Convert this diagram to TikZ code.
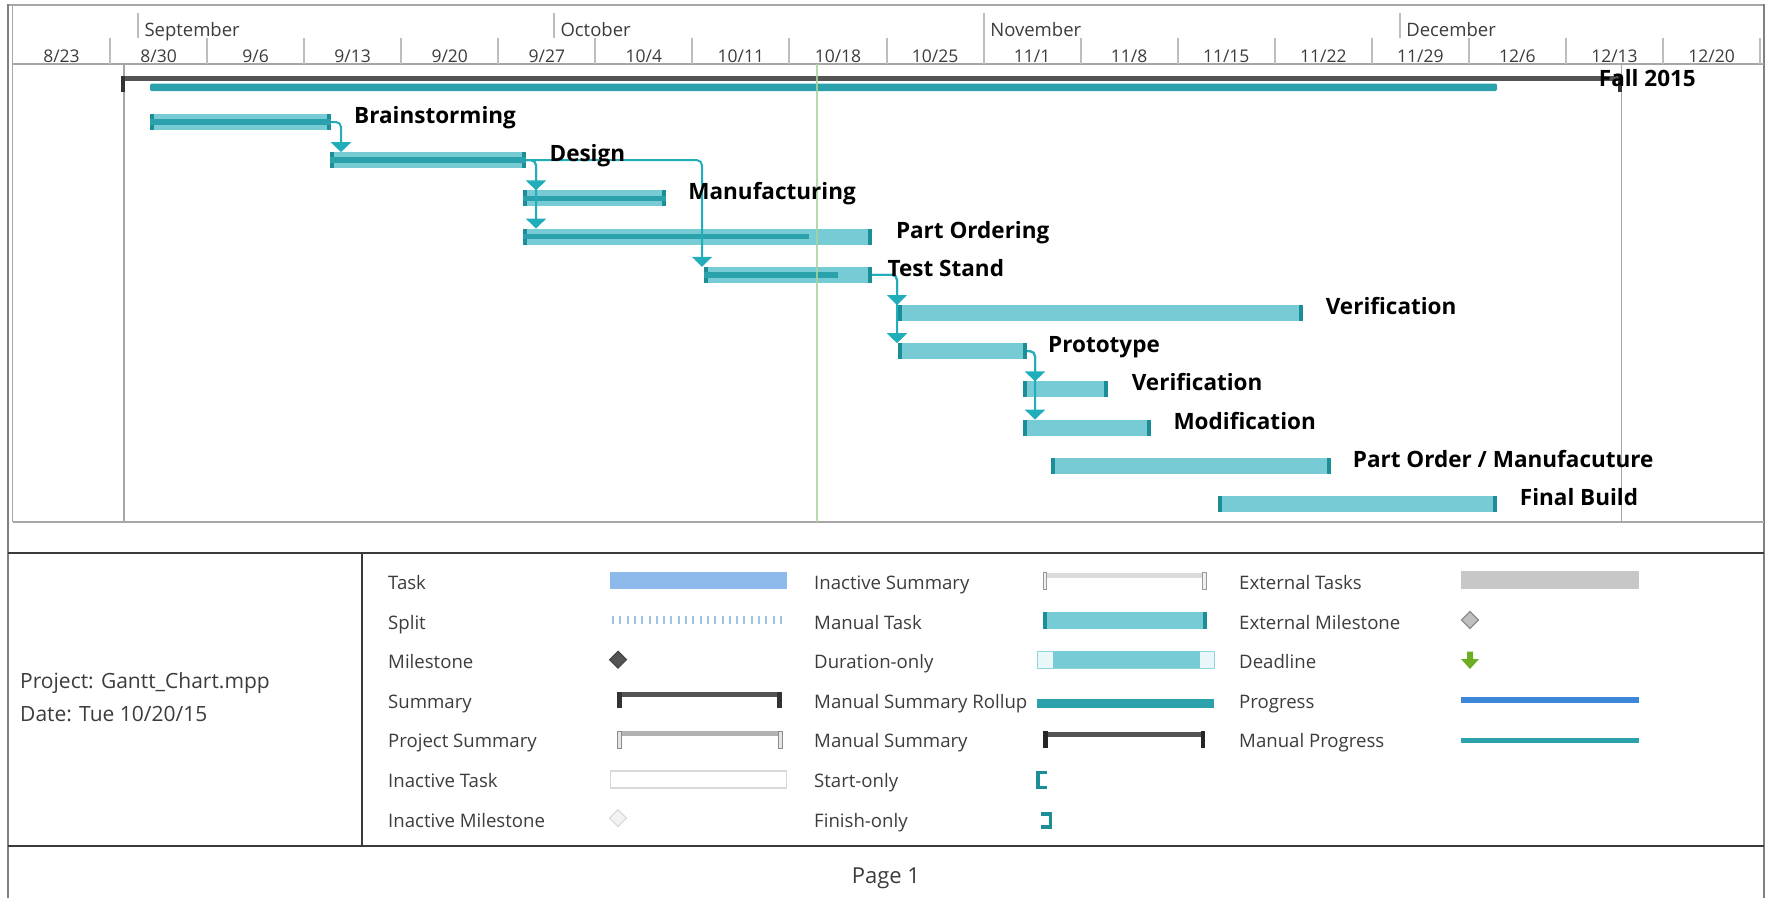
\documentclass[tikz,border=0pt]{standalone}
\usepackage{fontspec}
\setmainfont{Open Sans}
\usetikzlibrary{arrows.meta}
\definecolor{barteal}{HTML}{76CBD4}
\definecolor{capteal}{HTML}{1B8E98}
\definecolor{progteal}{HTML}{2BA1AB}
\definecolor{linkteal}{HTML}{22ADBB}
\definecolor{sumgray}{HTML}{545454}
\definecolor{gridgray}{HTML}{A6A6A6}
\definecolor{tickgray}{HTML}{BDBDBD}
\definecolor{framedark}{HTML}{3A3A3A}
\definecolor{todaygreen}{HTML}{A8D49C}
\definecolor{taskblue}{HTML}{8DBAEA}
\definecolor{splitblue}{HTML}{9DC3E6}
\definecolor{progblue}{HTML}{3D87D8}
\definecolor{deadgreen}{HTML}{6BAE24}
\definecolor{textgray}{HTML}{3C3C3C}
\tikzset{
  weeklabel/.style={font=\fontsize{17.5}{20}\selectfont, text=textgray, inner sep=0pt, anchor=base},
  monthlabel/.style={font=\fontsize{18.5}{20}\selectfont, text=textgray, inner sep=0pt, anchor=base west},
  tasklabel/.style={font=\bfseries\fontsize{22.5}{26}\selectfont, inner sep=0pt, anchor=base west},
  legtext/.style={font=\fontsize{18.6}{22}\selectfont, text=textgray, inner sep=0pt, anchor=base west},
  projtext/.style={font=\fontsize{21}{24}\selectfont, text=textgray, inner sep=0pt, anchor=base west},
  link/.style={draw=linkteal, line width=2pt, rounded corners=5pt, -{Triangle[width=20pt,length=10pt]}},
  progress/.style={draw=progteal, line width=5.5pt},
  summary bar/.style={fill=sumgray},
  summary cap/.style={fill=black!80},
}
\begin{document}
\begin{tikzpicture}[x=1pt, y=-1pt]
\useasboundingbox (0,0) rectangle (1769,898);
% frame
\draw[gridgray, line width=2pt] (8,5) -- (1764,5);
\draw[gray, line width=2.5pt] (8,4) -- (8,898);
\draw[gray, line width=2.5pt] (1764,4) -- (1764,898);
\draw[gridgray, line width=1.5pt] (12.5,5) -- (12.5,521.5);
\draw[gridgray, line width=2pt] (12.5,64) -- (1764,64);
\draw[gridgray, line width=2pt] (12.5,521.5) -- (1764,521.5);
\draw[framedark, line width=2pt] (8,553) -- (1764,553);
\draw[framedark, line width=2pt] (8,846) -- (1764,846);
\draw[framedark, line width=2pt] (362,553) -- (362,846);
% timescale
\foreach \x/\mname [count=\k] in {137.8/September, 553.8/October, 983.6/November, 1399.6/December}{
  \draw[tickgray, line width=2pt] (\x,13) -- (\x,38);
  \node[monthlabel] (M_\k) at (\x+6.5,36) {\mname};
}
\foreach \k in {1,...,18}
  \draw[tickgray, line width=2pt] (13+97.06*\k,38) -- (13+97.06*\k,64);
\foreach \m/\d [count=\k from 0] in {8/23,8/30,9/6,9/13,9/20,9/27,10/4,10/11,10/18,10/25,11/1,11/8,11/15,11/22,11/29,12/6,12/13,12/20}
  \node[weeklabel] (W_\k) at (61.5+97.06*\k,62.5) {\m/\d};
% project start and finish
\draw[gridgray, line width=1.5pt] (124,64) -- (124,521.5);
\draw[gridgray, line width=1.5pt] (1621.5,64) -- (1621.5,521.5);
% summary
\fill[summary bar] (122,76) rectangle (1621,80.5);
\fill[summary cap] (121,75.5) rectangle (124.5,92);
\fill[summary cap] (1618,75.5) rectangle (1621.5,92);
\fill[progteal, rounded corners=1.5pt] (150,83.5) rectangle (1497,91);
% tasks
\foreach \n/\xa/\xb/\y in {1/150/331/122, 2/330/526/160.2, 3/523/666/198.4, 4/523/872/236.6,
    5/704/872/274.8, 6/898/1303/313, 7/898/1027/351.2, 8/1023/1108/389.4,
    9/1023/1151/427.6, 10/1051/1331/465.8, 11/1218/1497/504}{
  \fill[barteal] (\xa,\y-8) rectangle (\xb,\y+8);
  \fill[capteal] (\xa,\y-8) rectangle (\xa+4,\y+8);
  \fill[capteal] (\xb-4,\y-8) rectangle (\xb,\y+8);
  \coordinate (S_\n) at (\xa,\y);
  \coordinate (E_\n) at (\xb,\y);
}
\foreach \n/\xp in {1/331, 2/526, 3/666, 4/809, 5/838}{
  \coordinate (P_\n) at (\xp,0);
  \draw[progress] (S_\n) -- (S_\n -| P_\n);
}
% links
\coordinate (A_2) at (341,152.2);
\coordinate (A_3) at (536,190.4);
\coordinate (A_4) at (536,228.6);
\coordinate (A_5) at (702,266.8);
\coordinate (A_6) at (897,305);
\coordinate (A_7) at (897,343.2);
\coordinate (A_8) at (1035,381.4);
\coordinate (A_9) at (1035,419.6);
\draw[link] (E_1) -| (A_2);
\draw[link] (E_2) -| (A_3);
\draw[link] (E_2) -| (A_4);
\draw[link] (E_2) -| (A_5);
\draw[link] (E_5) -| (A_6);
\draw[link] (E_5) -| (A_7);
\draw[link] (E_7) -| (A_8);
\draw[link] (E_7) -| (A_9);
% status date
\draw[todaygreen, line width=2pt, opacity=.85] (817,64) -- (817,521.5);
% task names
\node[tasklabel] (L_0) at (1598.7,86) {Fall 2015};
\node[tasklabel] (L_1) at (354,123.5) {Brainstorming};
\node[tasklabel] (L_2) at (549.4,161.7) {Design};
\node[tasklabel] (L_3) at (688.2,199.9) {Manufacturing};
\node[tasklabel] (L_4) at (895.8,238.1) {Part Ordering};
\node[tasklabel] (L_5) at (887.5,276.3) {Test Stand};
\node[tasklabel] (L_6) at (1325.6,314.5) {Verification};
\node[tasklabel] (L_7) at (1048,352.7) {Prototype};
\node[tasklabel] (L_8) at (1131.6,390.9) {Verification};
\node[tasklabel] (L_9) at (1173.3,429.1) {Modification};
\node[tasklabel] (L_10) at (1352.7,467.3) {Part Order / Manufacuture};
\node[tasklabel] (L_11) at (1519.7,505.5) {Final Build};
% legend
\node[projtext] (proj) at (20,688) {Project: Gantt\_Chart.mpp};
\node[projtext] (date) at (20,721.7) {Date: Tue 10/20/15};
\foreach \t [count=\i from 0] in {Task, Split, Milestone, Summary, Project Summary, Inactive Task, Inactive Milestone}
  \node[legtext] (LA_\i) at (388,589.5+39.6*\i) {\t};
\foreach \t [count=\i from 0] in {Inactive Summary, Manual Task, Duration-only, Manual Summary Rollup, Manual Summary, Start-only, Finish-only}
  \node[legtext] (LB_\i) at (814,589.5+39.6*\i) {\t};
\foreach \t [count=\i from 0] in {External Tasks, External Milestone, Deadline, Progress, Manual Progress}
  \node[legtext] (LC_\i) at (1239,589.5+39.6*\i) {\t};
% legend column 1
\fill[taskblue] (610,572) rectangle (787,589);
\draw[splitblue, line width=8pt, dash pattern=on 2pt off 5.3pt] (612,620) -- (787,620);
\filldraw[fill=sumgray, draw=black!75, line width=1pt] (618,651.2) -- (626.5,659.7) -- (618,668.2) -- (609.5,659.7) -- cycle;
\fill[sumgray] (617,691.5) rectangle (782,696.5);
\fill[black!80] (616.5,691.5) rectangle (621.5,708);
\fill[black!80] (777,691.5) rectangle (782,708);
\fill[black!30] (617,731) rectangle (782,736);
\filldraw[fill=black!10, draw=black!45, line width=1pt] (617,731) rectangle (621,748);
\filldraw[fill=black!10, draw=black!45, line width=1pt] (778,731) rectangle (782,748);
\draw[black!15, line width=1.2pt] (610.5,771) rectangle (786.5,788);
\filldraw[fill=black!5, draw=black!15, line width=1.2pt] (618,809.6) -- (626.5,818.1) -- (618,826.6) -- (609.5,818.1) -- cycle;
% legend column 2
\fill[black!14] (1043,572.5) rectangle (1206,577.5);
\filldraw[fill=black!6, draw=black!40, line width=1pt] (1043,572) rectangle (1046.5,589);
\filldraw[fill=black!6, draw=black!40, line width=1pt] (1202.5,572) rectangle (1206,589);
\fill[barteal] (1043,611.5) rectangle (1207,629);
\fill[capteal] (1043,611.5) rectangle (1047,629);
\fill[capteal] (1203,611.5) rectangle (1207,629);
\filldraw[fill=barteal!15, draw=barteal!80, line width=1pt] (1037,651.5) rectangle (1214,668.5);
\fill[barteal] (1053,651) rectangle (1200,668);
\fill[progteal] (1037,699) rectangle (1214,708);
\fill[sumgray] (1043,731.5) rectangle (1205,736.5);
\fill[black!85] (1043,730.5) rectangle (1047.5,748);
\fill[black!85] (1200.5,730.5) rectangle (1205,748);
\draw[capteal, line width=3.5pt] (1047,772.5) -- (1038,772.5) -- (1038,787.5) -- (1047,787.5);
\draw[capteal, line width=3.5pt] (1041,814) -- (1050.5,814) -- (1050.5,827) -- (1041,827);
% legend column 3
\fill[black!22] (1461,571) rectangle (1639,589);
\filldraw[fill=black!25, draw=black!45, line width=1.2pt] (1470,611.5) -- (1478.5,620) -- (1470,628.5) -- (1461.5,620) -- cycle;
\fill[deadgreen] (1467,651.5) -- (1473,651.5) -- (1473,659) -- (1479,659) -- (1470,669) -- (1461,659) -- (1467,659) -- cycle;
\fill[progblue] (1461,697) rectangle (1639,702.5);
\fill[progteal] (1461,737.5) rectangle (1639,742.5);
% footer
\node[legtext, font=\fontsize{22}{26}\selectfont, anchor=base] (page) at (886,883) {Page 1};
\end{tikzpicture}
\end{document}
